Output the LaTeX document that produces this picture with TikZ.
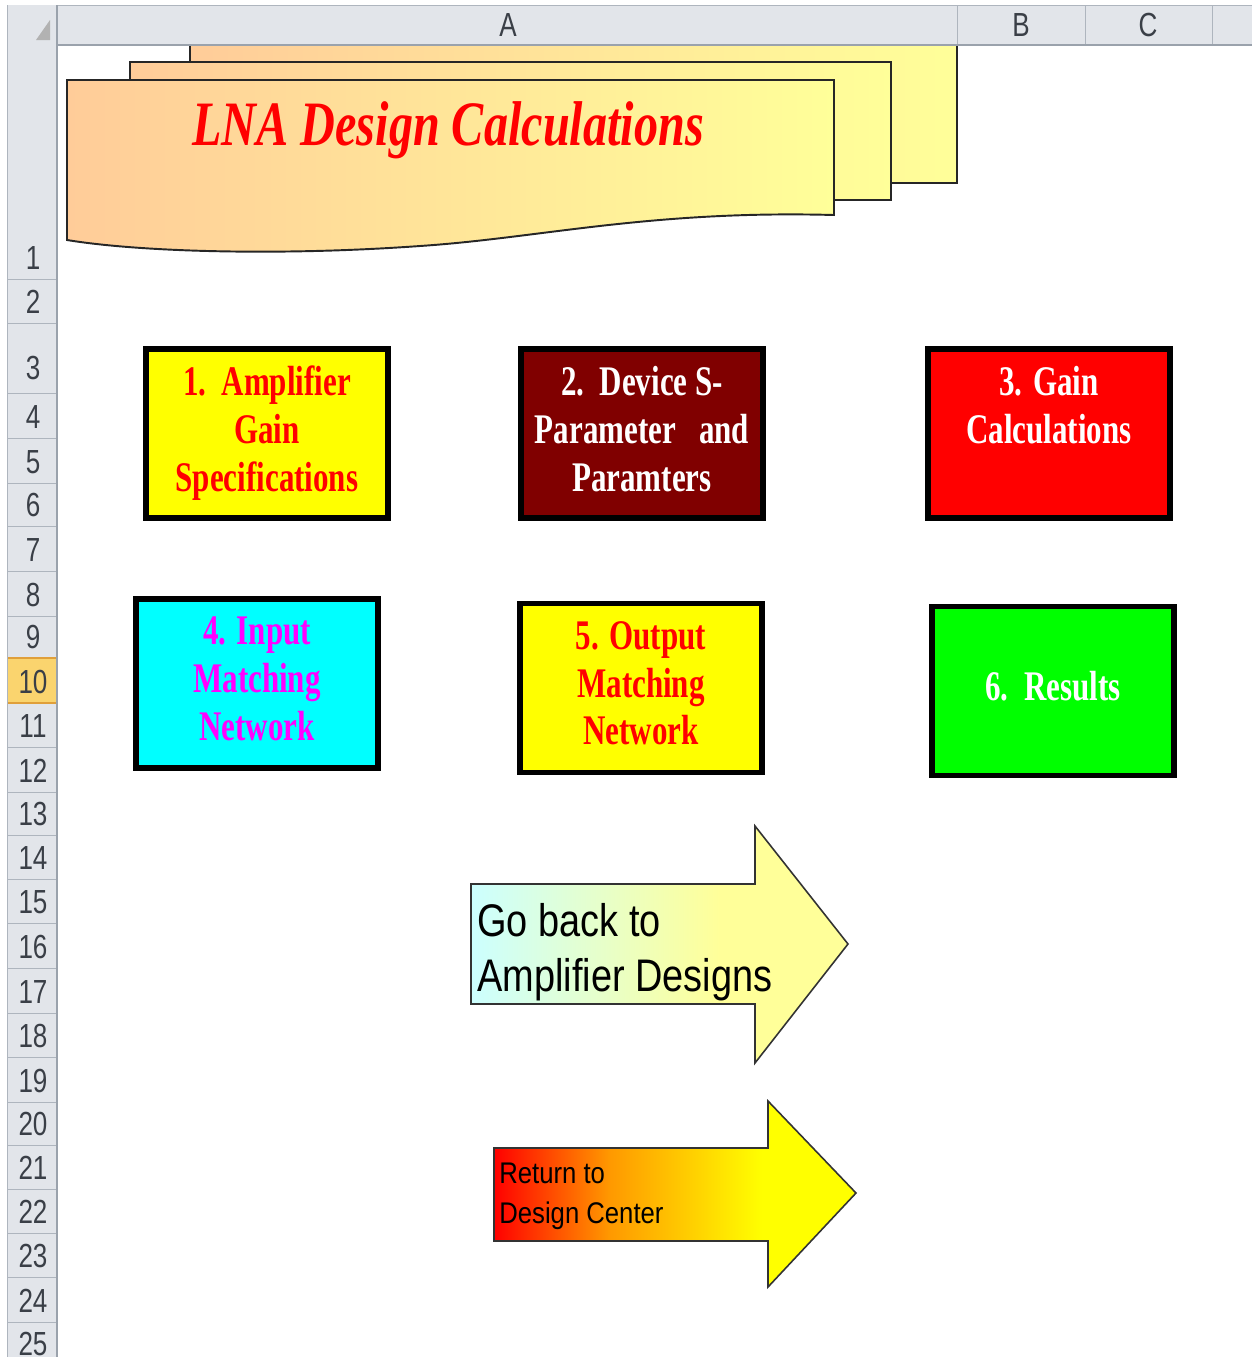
\documentclass[tikz,border=0pt]{standalone}
\usepackage{fontspec}
\setmainfont{Liberation Serif}
\newfontfamily\boxfont[FakeStretch=0.735]{Liberation Serif}
\newfontfamily\titlefont[FakeStretch=0.762]{Liberation Serif}
\newfontfamily\arrowfont[FakeStretch=0.83]{Liberation Sans}
\newfontfamily\narrowsans[FakeStretch=0.86]{Liberation Sans}
\newfontfamily\headfont[FakeStretch=0.78]{Liberation Sans}

\definecolor{hdrfill}{HTML}{E2E5EA}
\definecolor{hdrline}{HTML}{AEB5BE}
\definecolor{hdredge}{HTML}{9AA2AC}
\definecolor{hdrtext}{HTML}{3A3F47}
\definecolor{selfill}{HTML}{FAD46E}
\definecolor{selline}{HTML}{E09F3A}
\definecolor{peach}{HTML}{FFCC99}
\definecolor{paleyellow}{HTML}{FFFF99}
\definecolor{palecyan}{HTML}{CCFFFF}
\definecolor{darkmaroon}{HTML}{800000}
\definecolor{hotorange}{HTML}{FF9900}
\definecolor{puremagenta}{HTML}{FF00FF}
\definecolor{purecyan}{HTML}{00FFFF}
\definecolor{pureyellow}{HTML}{FFFF00}
\definecolor{purered}{HTML}{FF0000}
\definecolor{puregreen}{HTML}{00FF00}

% horizontal fills; the path's box spans 25bp..75bp of each shading
\pgfdeclarehorizontalshading{gobackshade}{100bp}{color(0bp)=(palecyan); color(25bp)=(palecyan); color(58bp)=(paleyellow); color(100bp)=(paleyellow)}
\pgfdeclarehorizontalshading{returnshade}{100bp}{color(0bp)=(purered); color(25bp)=(purered); color(41bp)=(hotorange); color(62bp)=(pureyellow); color(100bp)=(pureyellow)}

% fixed depth for the last line of a box label
\newcommand\boxdepth{\rule[-5.5pt]{0pt}{5.5pt}}

\tikzset{
  stepbox/.style={draw=black, line width=3.4pt, minimum width=242*0.02cm,
    minimum height=169*0.02cm, inner sep=0pt, align=center,
    font=\boxfont\bfseries\fontsize{24}{27.2}\selectfont},
  banner/.style={left color=peach, right color=paleyellow, draw=black!85, line width=1.1pt},
  arrowshape/.style={draw=black!80, line width=0.9pt},
  rowlabel/.style={text=hdrtext, font=\headfont\fontsize{19}{20}\selectfont, inner sep=0pt},
  collabel/.style={text=hdrtext, font=\headfont\fontsize{19}{20}\selectfont, inner sep=0pt},
}

\begin{document}
\begin{tikzpicture}[x=0.02cm, y=-0.02cm]
\useasboundingbox (0,0) rectangle (1252,1357);
\clip (0,0) rectangle (1252,1357);
\fill[white] (0,0) rectangle (1252,1357);

% stacked title banners, back to front
\path[banner] (190,20) rectangle (957,183);
\path[banner] (130,62) rectangle (891,200);
\path[banner] (67,80) -- (834,80) -- (834,215)
  .. controls (650,210) and (540,238) .. (420,246)
  .. controls (280,256) and (140,252) .. (67,240) -- cycle;
\node[anchor=base, text=purered, font=\titlefont\bfseries\itshape\fontsize{36}{40}\selectfont, inner sep=0pt]
  (title) at (448,145) {LNA Design Calculations};

% column header strip
\fill[hdrfill] (7,5) rectangle (1252,45);
\draw[hdrline] (7,5.5) -- (1252,5.5);
\foreach \cx in {957,1085,1212} \draw[hdrline] (\cx,5) -- (\cx,45);
\draw[hdredge, line width=0.8pt] (7,45) -- (1252,45);
\node[collabel] (colA) at (508,25) {A};
\node[collabel] (colB) at (1021,25) {B};
\node[collabel] (colC) at (1148,25) {C};

% row header strip
\fill[hdrfill] (7,5) rectangle (57,1357);
\fill[selfill] (7,658) rectangle (57,703);
\foreach \ry in {279,323,393,438,483,526,571,616,703,747,792,835,879,923,968,1013,1057,1102,1145,1189,1233,1277,1322}
  \draw[hdrline] (7,\ry) -- (57,\ry);
\draw[selline, line width=0.9pt] (7.5,658) rectangle (57,703);
\draw[hdredge, line width=0.8pt] (57,5) -- (57,1357);
\draw[hdrline] (7.5,5) -- (7.5,1357);
\fill[black!30] (36,40) -- (50,40) -- (50,20) -- cycle;

\foreach \n/\b in {1/279,2/323,3/389,4/438,5/483,6/526,7/571,8/616,9/658,10/703,11/747,12/792,13/835,14/879,15/923,16/968,17/1013,18/1057,19/1102,20/1145,21/1189,22/1233,23/1277,24/1322,25/1365}
  \node[rowlabel] (row\n) at (33,\b-21) {\n};

% task boxes
\node[stepbox, fill=pureyellow, text=purered] (amp) at (267,433.5)
  {1.~~Amplifier\\Gain\\Specifications\boxdepth};
\node[stepbox, fill=darkmaroon, text=white] (sparam) at (642,433.5)
  {2.~~Device S-\\Parameter~~~and\\Paramters\boxdepth};
\node[stepbox, fill=purered, text=white] (gain) at (1049,433.5)
  {3. Gain\\Calculations\\\mbox{}\boxdepth};
\node[stepbox, fill=purecyan, text=puremagenta] (inmatch) at (257,683.5)
  {4. Input\\Matching\\Network\boxdepth};
\node[stepbox, fill=pureyellow, text=purered] (outmatch) at (641,688)
  {5. Output\\Matching\\Network\boxdepth};
\node[stepbox, fill=puregreen, text=white] (results) at (1053,691)
  {6.~~Results\boxdepth};

% navigation arrows
\shadedraw[shading=gobackshade, arrowshape]
  (471,884) -- (755,884) -- (755,826) -- (848,944) -- (755,1063) -- (755,1004) -- (471,1004) -- cycle;
\node[anchor=west, align=left, inner sep=0pt, font=\arrowfont\fontsize{26}{31}\selectfont]
  (goback) at (477,952) {Go back to\\Amplifier Designs};

\shadedraw[shading=returnshade, arrowshape]
  (494,1148) -- (768,1148) -- (768,1101) -- (856,1193) -- (768,1287) -- (768,1241) -- (494,1241) -- cycle;
\node[anchor=west, align=left, inner sep=0pt, font=\narrowsans\fontsize{17}{22.7}\selectfont]
  (return) at (499,1196) {Return to\\Design Center};
\end{tikzpicture}
\end{document}
